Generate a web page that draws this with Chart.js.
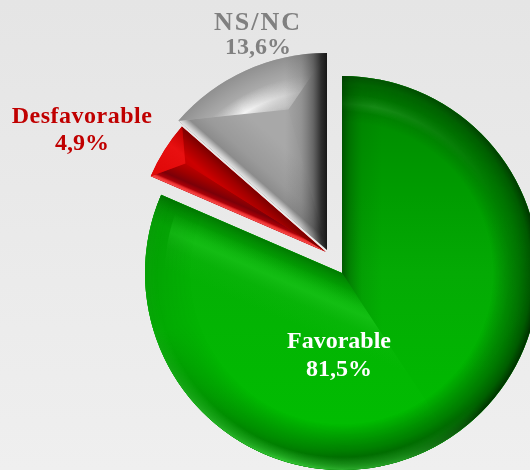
<!DOCTYPE html>
<html><head><meta charset="utf-8">
<script src="https://cdn.jsdelivr.net/npm/chart.js@4/dist/chart.umd.min.js"></script>
<style>
html,body{margin:0;padding:0;width:530px;height:470px;overflow:hidden;background:linear-gradient(#e5e5e5,#efefef)}
#w{position:absolute;left:0;top:0;width:530px;height:470px}
</style></head><body><div id="w"><canvas id="c" width="530" height="470"></canvas></div>
<script>
const categories = ['Favorable', 'Desfavorable', 'NS/NC'];
const values = [81.5, 4.9, 13.6];
const valueLabels = ['81,5%', '4,9%', '13,6%'];
const baseColors = ['#00a800', '#c80000', '#a6a6a6'];
const labelColors = ['#ffffff', '#c00000', '#808080'];
const explode = [[0, 0], [-16, -21], [-15, -23]];
const arcRadius = [197, 191, 197];
const labelPos = [[339, 342, 370], [82, 117, 144], [258, 23, 48]];
const labelSpacing = ['0px', '0.5px', '2px'];
const labelSize = [24, 24, 26];

function P(a, t, r) { return [a.x + Math.cos(t) * r, a.y + Math.sin(t) * r]; }
function edgeGrad(ctx, a, t, sign, L, stops) {
  const g = ctx.createLinearGradient(a.x, a.y, a.x + Math.cos(t + sign * Math.PI / 2) * L, a.y + Math.sin(t + sign * Math.PI / 2) * L);
  stops.forEach(s => g.addColorStop(s[0] / L, s[1]));
  return g;
}
function radGrad(ctx, a, stops) {
  const R = a.outerRadius;
  const g = ctx.createRadialGradient(a.x, a.y, 0, a.x, a.y, R);
  stops.forEach(s => g.addColorStop(s[0] / R, s[1]));
  return g;
}
function sector(ctx, a, s, e, r) { ctx.beginPath(); ctx.moveTo(a.x, a.y); ctx.arc(a.x, a.y, r, s, e); ctx.closePath(); }
function withClip(ctx, pathFn, fn) { ctx.save(); pathFn(); ctx.clip(); fn(); ctx.restore(); }
function maskedRadial(ctx, a, rad, conic) {
  const o = document.createElement('canvas'); o.width = 530; o.height = 470;
  const x = o.getContext('2d');
  x.fillStyle = radGrad(x, a, rad); x.fillRect(0, 0, 530, 470);
  x.globalCompositeOperation = 'destination-in';
  const c = x.createConicGradient(0, a.x, a.y);
  conic.forEach(q => c.addColorStop(q[0], 'rgba(0,0,0,' + q[1] + ')'));
  x.fillStyle = c; x.fillRect(0, 0, 530, 470);
  ctx.drawImage(o, 0, 0);
}

function shadeGreen(ctx, a) {
  const R = a.outerRadius, s = a.startAngle, e = a.endAngle, m = (s + e) / 2;
  const fill = st => { ctx.fillStyle = st; ctx.fillRect(0, 0, 530, 470); };
  withClip(ctx, () => sector(ctx, a, s, e, R), () => {
    const v = ctx.createLinearGradient(0, a.y - R, 0, a.y + R);
    v.addColorStop(0, '#008400'); v.addColorStop(0.3, '#009c00'); v.addColorStop(0.5, '#04aa04'); v.addColorStop(0.85, '#00ba00');
    fill(v);
    withClip(ctx, () => sector(ctx, a, m, e, R + 2), () => {
      const l = ctx.createLinearGradient(0, 180, 0, 470);
      l.addColorStop(0, '#06a806'); l.addColorStop(1, '#00c000');
      fill(l);
      fill(edgeGrad(ctx, a, e, -1, 30, [[0, 'rgba(0,100,0,.7)'], [14, 'rgba(0,120,0,.3)'], [28, 'rgba(0,120,0,0)']]));
      maskedRadial(ctx, a,
        [[0, 'rgba(0,0,0,0)'], [1, 'rgba(0,0,0,0)']],
        [[0, 0], [1, 0]]);
      withClip(ctx, () => sector(ctx, a, m, e, R - 20), () => {
        fill(edgeGrad(ctx, a, e, -1, 70, [[12, 'rgba(30,195,30,0)'], [24, 'rgba(32,200,32,.4)'], [31, 'rgba(32,200,32,.55)'], [46, 'rgba(30,190,30,.16)'], [66, 'rgba(30,190,30,0)']]));
      });
    });
    withClip(ctx, () => sector(ctx, a, s, m, R + 2), () => {
      fill(edgeGrad(ctx, a, s, 1, 44, [[0, 'rgba(0,55,0,.7)'], [8, 'rgba(0,70,0,.4)'], [20, 'rgba(0,90,0,.14)'], [40, 'rgba(0,90,0,0)']]));
    });
    maskedRadial(ctx, a,
      [[R - 36, 'rgba(60,190,60,0)'], [R - 28, 'rgba(70,190,70,.6)'], [R - 18, 'rgba(60,190,60,0)']],
      [[0, 0], [0.74, 0], [0.78, .7], [0.84, .35], [0.93, 0], [1, 0]]);
    maskedRadial(ctx, a,
      [[R - 46, 'rgba(0,60,0,0)'], [R - 20, 'rgba(0,75,0,.6)'], [R - 8, 'rgba(0,60,0,.8)'], [R, 'rgba(0,35,0,1)']],
      [[0, .95], [0.1, .9], [0.25, .9], [0.34, .6], [0.45, .12], [0.6, .15], [0.75, .5], [0.88, .75], [1, .95]]);
    maskedRadial(ctx, a,
      [[R - 13, 'rgba(50,205,50,0)'], [R - 3, 'rgba(50,205,50,.75)'], [R, 'rgba(60,215,60,.9)']],
      [[0, 0], [0.12, 0], [0.2, .7], [0.3, 1], [0.38, .6], [0.46, .1], [1, 0]]);
  });
}

function facets(ctx, a, ratio, cfg) {
  const R = a.outerRadius, s = a.startAngle, e = a.endAngle, m = (s + e) / 2 + (cfg.skew || 0);
  const i = P(a, m, R * ratio), ps = P(a, s, R), pe = P(a, e, R);
  const fill = st => { ctx.fillStyle = st; ctx.fillRect(0, 0, 530, 470); };
  withClip(ctx, () => sector(ctx, a, s, e, R), () => {
    withClip(ctx, () => { ctx.beginPath(); ctx.moveTo(a.x, a.y); ctx.lineTo(ps[0], ps[1]); ctx.lineTo(i[0], i[1]); ctx.closePath(); }, () => cfg.startFacet(fill));
    withClip(ctx, () => { ctx.beginPath(); ctx.moveTo(a.x, a.y); ctx.lineTo(i[0], i[1]); ctx.lineTo(pe[0], pe[1]); ctx.closePath(); }, () => cfg.endFacet(fill));
    withClip(ctx, () => { ctx.beginPath(); ctx.moveTo(i[0], i[1]); ctx.lineTo(ps[0], ps[1]); ctx.arc(a.x, a.y, R + 1, s, e); ctx.lineTo(pe[0], pe[1]); ctx.closePath(); }, () => cfg.rim(fill));
    if (cfg.after) cfg.after(fill);
  });
}

function shadeRed(ctx, a) {
  const s = a.startAngle, e = a.endAngle;
  facets(ctx, a, 0.87, {
    startFacet: f => { f('#b40000'); f(edgeGrad(ctx, a, s, 1, 26, [[0, '#f85050'], [2.5, '#ee3030'], [4.5, '#a80008'], [9, '#7c0008'], [17, '#a00000'], [26, '#c00000']])); },
    endFacet: f => { f(edgeGrad(ctx, a, e, -1, 30, [[0, '#7a0000'], [8, '#a00000'], [20, '#cc0000'], [30, '#c00000']])); },
    rim: f => { const g = ctx.createLinearGradient(a.x - 170, a.y - 80, a.x - 140, a.y - 120); g.addColorStop(0, '#e00808'); g.addColorStop(0.6, '#e81010'); g.addColorStop(1, '#c00000'); f(g); }
  });
}

function shadeGrey(ctx, a) {
  const s = a.startAngle, e = a.endAngle;
  facets(ctx, a, 0.74, {
    skew: 0.16,
    startFacet: f => { f('#a8a8a8'); f(edgeGrad(ctx, a, s, 1, 50, [[0, '#e6e6e6'], [3, '#c8c8c8'], [8, '#8c8c8c'], [20, '#9a9a9a'], [50, '#a8a8a8']])); },
    endFacet: f => { f('#a6a6a6'); },
    rim: f => {
      f(radGrad(ctx, a, [[135, '#acacac'], [150, '#bcbcbc'], [175, '#ababab'], [197, '#909090']]));
      maskedRadial(ctx, a,
        [[146, 'rgba(245,245,245,0)'], [160, 'rgba(245,245,245,1)'], [176, 'rgba(245,245,245,0)']],
        [[0, 0], [0.6, 0], [0.63, .3], [0.665, 1], [0.71, .4], [0.76, 0], [1, 0]]);
    },
    after: f => { f(edgeGrad(ctx, a, e, -1, 50, [[0, 'rgba(15,15,15,.95)'], [6, 'rgba(25,25,25,.85)'], [14, 'rgba(50,50,50,.55)'], [26, 'rgba(80,80,80,.22)'], [42, 'rgba(90,90,90,0)']])); }
  });
}

const shaders = [shadeGreen, shadeRed, shadeGrey];

const wedgePlugin = {
  id: 'wedges',
  afterDatasetsUpdate(chart) {
    chart.getDatasetMeta(0).data.forEach((a, i) => { a.x += explode[i][0]; a.y += explode[i][1]; a.outerRadius = arcRadius[i]; });
  },
  afterDatasetDraw(chart) {
    const ctx = chart.ctx;
    chart.getDatasetMeta(0).data.forEach((a, i) => shaders[i](ctx, a));
  },
  afterDatasetsDraw(chart) {
    const ctx = chart.ctx;
    ctx.save();
    ctx.textAlign = 'center';
    ctx.textBaseline = 'middle';
    categories.forEach((name, i) => {
      ctx.fillStyle = labelColors[i];
      ctx.font = 'bold ' + labelSize[i] + 'px "Liberation Serif"';
      ctx.letterSpacing = labelSpacing[i];
      ctx.fillText(name, labelPos[i][0], labelPos[i][1]);
      ctx.letterSpacing = '0px';
      ctx.font = 'bold 24px "Liberation Serif"';
      ctx.fillText(valueLabels[i], labelPos[i][0], labelPos[i][2]);
    });
    ctx.restore();
  }
};

new Chart(document.getElementById('c'), {
  type: 'pie',
  data: { labels: categories, datasets: [{ data: values, backgroundColor: baseColors, borderWidth: 0, clip: false }] },
  options: {
    responsive: false,
    animation: false,
    events: [],
    radius: 197,
    layout: { padding: { left: 154, right: 0, top: 76, bottom: 0 } },
    plugins: { legend: { display: false }, tooltip: { enabled: false }, title: { display: false } }
  },
  plugins: [wedgePlugin]
});
</script></body></html>
